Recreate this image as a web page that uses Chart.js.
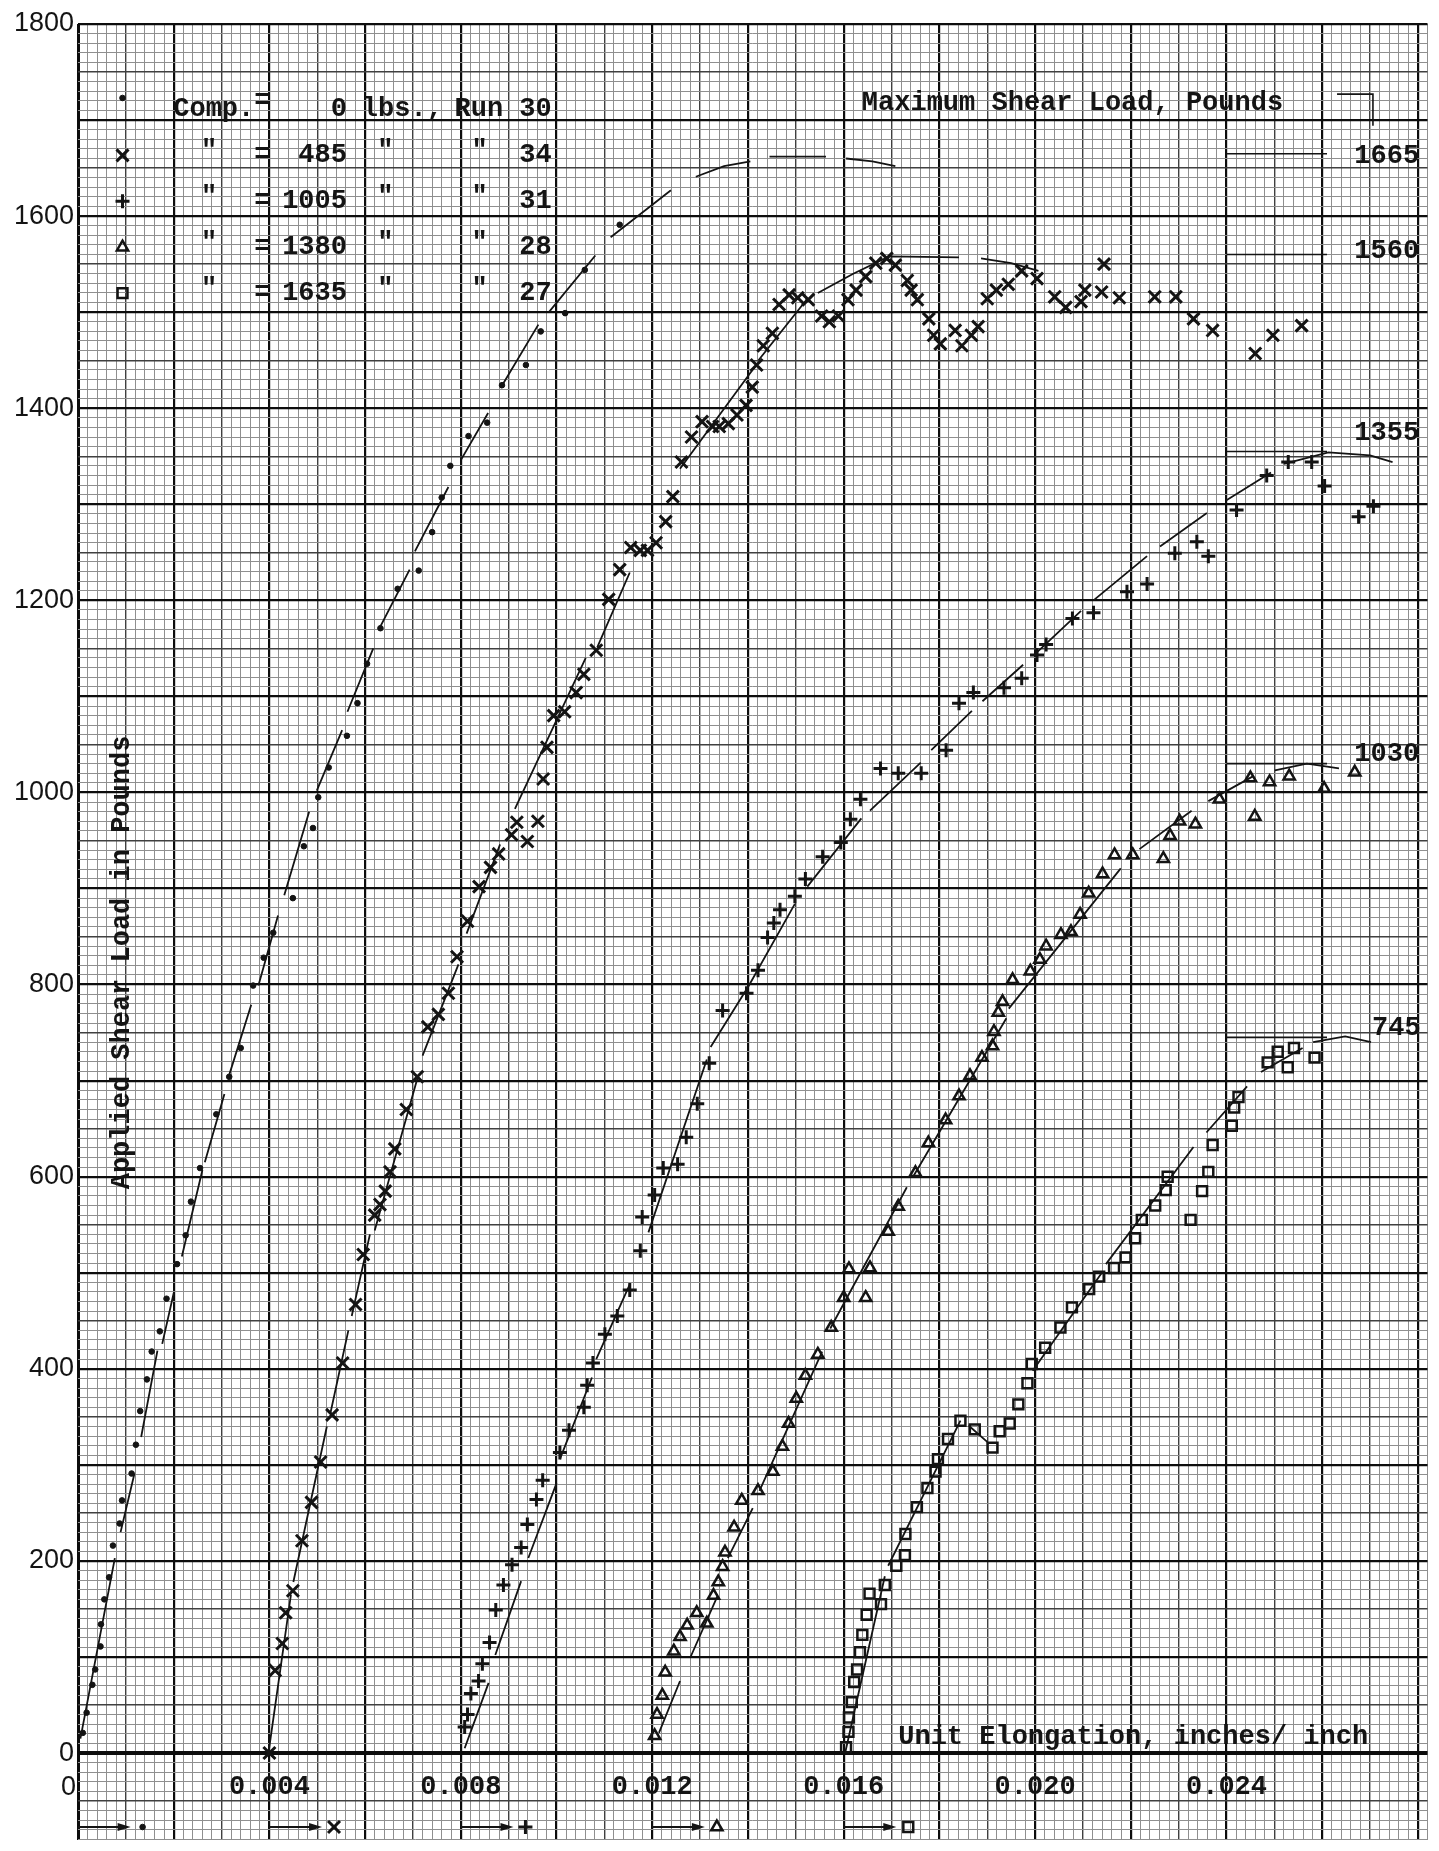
<!DOCTYPE html>
<html>
<head>
<meta charset="utf-8">
<title>Applied Shear Load vs Unit Elongation</title>
<script src="https://cdn.jsdelivr.net/npm/chart.js@4.4.1/dist/chart.umd.min.js"></script>
<style>
  html, body { margin: 0; padding: 0; background: #fff; }
  #wrap { width: 1439px; height: 1851px; }
</style>
</head>
<body>
<div id="wrap"><canvas id="myChart" width="1439" height="1851"></canvas></div>
<script>
// legend / labels
const compLoads = [0, 485, 1005, 1380, 1635];
const runNumbers = [30, 34, 31, 28, 27];
const maxLoads = [1665, 1560, 1355, 1030, 745];
const xTickLabels = ['0.004', '0.008', '0.012', '0.016', '0.020', '0.024'];
const xTickValues = [0.004, 0.008, 0.012, 0.016, 0.020, 0.024];
const seriesStarts = [0, 0.004, 0.008, 0.012, 0.016];

// Comp. = 0 lbs, Run 30  (dots)
const run30Points = [
  [0.0001,21],[0.00018,42],[0.0003,71],[0.00036,87],[0.00047,111],[0.00048,134],[0.00055,160],
  [0.00065,183],[0.00073,216],[0.00087,239],[0.00092,263],[0.00112,291],[0.00121,321],[0.0013,356],
  [0.00144,389],[0.00154,418],[0.00171,439],[0.00185,473],[0.00207,509],[0.00225,539],[0.00236,574],
  [0.00255,609],[0.00289,665],[0.00316,704],[0.0034,734],[0.00366,799],[0.00388,828],[0.00408,854],
  [0.00449,890],[0.00472,944],[0.00491,963],[0.00502,995],[0.00524,1026],[0.00562,1059],[0.00584,1093],
  [0.00604,1134],[0.00632,1171],[0.00668,1212],[0.00712,1231],[0.0074,1271],[0.0076,1307],[0.00778,1340],
  [0.00816,1371],[0.00855,1385],[0.00886,1424],[0.00936,1445],[0.00967,1480],[0.01018,1499],
  [0.01059,1544],[0.01132,1591]
];
const run30Fit = [
  [[0.00005,15],[0.00077,203]], [[0.00089,230],[0.00118,291]], [[0.00132,329],[0.00166,419]],
  [[0.00176,426],[0.002,479]], [[0.00217,517],[0.0026,607]], [[0.00265,615],[0.00306,686]],
  [[0.00316,706],[0.00362,779]], [[0.00377,799],[0.00418,872]], [[0.00431,893],[0.00483,980]],
  [[0.00499,1002],[0.00552,1065]], [[0.00563,1084],[0.00617,1150]], [[0.00629,1170],[0.00693,1232]],
  [[0.00704,1251],[0.00774,1318]], [[0.008,1346],[0.00857,1395]], [[0.00883,1421],[0.00962,1487]],
  [[0.00984,1500],[0.01081,1559]], [[0.01113,1578],[0.01239,1627]],
  [[0.01291,1641],[0.0135,1652],[0.01405,1657]], [[0.01445,1662],[0.01563,1662]],
  [[0.01605,1660],[0.0166,1657],[0.01708,1652]]
];

// Comp. = 485 lbs, Run 34  (x)
const run34Points = [
  [0.004,0],[0.00412,86],[0.00427,114],[0.00434,146],[0.00449,169],[0.00468,221],[0.00488,261],
  [0.00507,303],[0.00531,352],[0.00553,406],[0.0058,467],[0.00596,519],[0.0062,560],[0.00631,571],
  [0.00642,585],[0.00652,605],[0.00662,629],[0.00686,670],[0.00709,704],[0.00731,756],[0.00753,769],
  [0.00774,791],[0.00792,829],[0.00814,866],[0.00838,902],[0.00862,922],[0.00879,936],[0.00906,956],
  [0.00917,969],[0.00939,949],[0.00961,970],[0.00972,1014],[0.0098,1047],[0.00994,1080],[0.01017,1084],
  [0.01041,1104],[0.01057,1123],[0.01083,1148],[0.01109,1201],[0.01132,1232],[0.01155,1255],
  [0.01175,1252],[0.0119,1252],[0.01208,1260],[0.01228,1282],[0.01243,1308],[0.01261,1344],
  [0.01282,1370],[0.01304,1386],[0.01326,1381],[0.0134,1381],[0.01359,1384],[0.01377,1393],
  [0.01396,1403],[0.01409,1422],[0.01418,1445],[0.01432,1465],[0.01451,1478],[0.01465,1508],
  [0.01486,1518],[0.01504,1515],[0.01526,1513],[0.01554,1496],[0.0157,1490],[0.01589,1496],
  [0.01609,1513],[0.01626,1523],[0.01646,1537],[0.01667,1551],[0.0169,1556],[0.01708,1549],
  [0.01733,1533],[0.01741,1523],[0.01754,1513],[0.01778,1493],[0.01788,1476],[0.01802,1467],
  [0.01833,1481],[0.01847,1465],[0.01867,1476],[0.01881,1485],[0.019,1514],[0.01919,1523],
  [0.01944,1529],[0.01972,1543],[0.02004,1535],[0.02041,1516],[0.02064,1505],[0.02096,1511],
  [0.02104,1523],[0.02139,1521],[0.02144,1550],[0.02176,1515],[0.0225,1516],[0.02294,1516],
  [0.02331,1493],[0.02371,1481],[0.0246,1457],[0.02497,1476],[0.02557,1486]
];
const run34Fit = [
  [[0.00398,0],[0.00445,165]], [[0.0045,178],[0.0052,340]], [[0.00528,355],[0.00565,440]],
  [[0.00572,455],[0.0061,540]], [[0.0062,544],[0.00709,702]], [[0.0072,726],[0.00795,821]],
  [[0.00812,853],[0.00882,946]], [[0.00913,983],[0.01061,1140]], [[0.01085,1151],[0.01153,1229]],
  [[0.01258,1337],[0.01414,1443]], [[0.01422,1450],[0.01524,1514]],
  [[0.01546,1520],[0.0162,1540],[0.01695,1558],[0.01841,1557]],
  [[0.01887,1556],[0.0195,1551],[0.02007,1543]]
];

// Comp. = 1005 lbs, Run 31  (+)
const run31Points = [
  [0.00808,27],[0.00814,40],[0.00821,62],[0.00837,75],[0.00845,93],[0.0086,115],[0.00873,149],
  [0.00889,175],[0.00907,196],[0.00926,214],[0.00939,238],[0.00958,264],[0.00971,284],[0.01007,313],
  [0.01026,336],[0.01057,360],[0.01064,383],[0.01076,406],[0.01101,436],[0.01127,455],[0.01153,482],
  [0.01175,523],[0.01179,558],[0.01205,581],[0.01223,609],[0.01253,613],[0.01271,641],[0.01294,676],
  [0.01319,718],[0.01347,773],[0.01397,791],[0.01421,815],[0.01441,849],[0.01454,864],[0.01467,878],
  [0.01498,892],[0.0152,910],[0.01556,933],[0.01594,948],[0.01614,972],[0.01635,993],[0.01677,1025],
  [0.01714,1020],[0.01762,1020],[0.01814,1044],[0.01841,1093],[0.01871,1104],[0.01935,1109],
  [0.01972,1119],[0.02004,1143],[0.02023,1154],[0.02078,1181],[0.02122,1187],[0.02192,1209],
  [0.02234,1217],[0.02292,1249],[0.02338,1261],[0.02362,1246],[0.02421,1294],[0.02484,1330],
  [0.02529,1344],[0.02578,1344],[0.02605,1319],[0.02676,1287],[0.02707,1298]
];
const run31Fit = [
  [[0.00808,5],[0.00858,73]], [[0.00872,102],[0.00926,179]], [[0.00941,203],[0.01,281]],
  [[0.01007,306],[0.01074,391]], [[0.01083,410],[0.01153,488]], [[0.01192,542],[0.01314,722]],
  [[0.01322,735],[0.01402,799],[0.01498,884]], [[0.01524,902],[0.01637,973]],
  [[0.01655,981],[0.01761,1031]], [[0.01783,1044],[0.01868,1085]], [[0.0189,1095],[0.01975,1133]],
  [[0.02002,1145],[0.02096,1189]], [[0.02122,1200],[0.02234,1246]], [[0.02261,1256],[0.02359,1291]],
  [[0.02399,1304],[0.02493,1333]], [[0.0252,1342],[0.02613,1354],[0.027,1351],[0.02747,1344]]
];

// Comp. = 1380 lbs, Run 28  (triangle)
const run28Points = [
  [0.01205,18],[0.0121,40],[0.01221,60],[0.01227,84],[0.01245,106],[0.01258,121],[0.01273,133],
  [0.01293,146],[0.01314,135],[0.01328,164],[0.01338,178],[0.01347,194],[0.01352,209],[0.01371,235],
  [0.01387,263],[0.01421,273],[0.01452,293],[0.01472,319],[0.01485,343],[0.01501,369],[0.0152,393],
  [0.01546,415],[0.01574,443],[0.016,474],[0.01611,504],[0.01646,474],[0.01655,505],[0.01693,543],
  [0.01714,569],[0.0175,604],[0.01777,635],[0.01813,659],[0.01841,684],[0.01864,705],[0.01889,724],
  [0.01911,736],[0.01914,751],[0.01923,771],[0.01932,782],[0.01953,805],[0.0199,814],[0.0201,826],
  [0.02023,840],[0.02054,852],[0.02075,855],[0.02094,873],[0.02112,895],[0.02141,915],[0.02166,935],
  [0.02204,935],[0.02268,931],[0.02282,955],[0.02302,970],[0.02335,967],[0.02385,993],[0.0245,1015],
  [0.02459,975],[0.0249,1011],[0.02531,1017],[0.02604,1004],[0.02668,1021]
];
const run28Fit = [
  [[0.01214,21],[0.01258,75]], [[0.0128,100],[0.01336,163]], [[0.01358,203],[0.0141,255]],
  [[0.01424,273],[0.01555,418]], [[0.01572,442],[0.01732,589]], [[0.01745,600],[0.0194,765]],
  [[0.01945,775],[0.02179,921]], [[0.02218,941],[0.02327,981]], [[0.02362,991],[0.02456,1017]],
  [[0.02501,1023],[0.02568,1030],[0.02635,1025]]
];

// Comp. = 1635 lbs, Run 27  (square)
const run27Points = [
  [0.01605,6],[0.0161,22],[0.01611,37],[0.01617,53],[0.01622,74],[0.01628,87],[0.01634,105],
  [0.01639,123],[0.01648,144],[0.01654,166],[0.01678,155],[0.01686,175],[0.0171,195],[0.01728,206],
  [0.01729,228],[0.01753,256],[0.01775,276],[0.01792,293],[0.01797,306],[0.01818,327],[0.01844,346],
  [0.01874,337],[0.01911,318],[0.01926,335],[0.01947,343],[0.01965,363],[0.01984,385],[0.01993,405],
  [0.02021,422],[0.02053,443],[0.02077,464],[0.02113,483],[0.02134,496],[0.02165,505],[0.02189,516],
  [0.02209,536],[0.02223,555],[0.02251,570],[0.02273,586],[0.02277,600],[0.02325,555],[0.02349,585],
  [0.02362,605],[0.02371,633],[0.02411,653],[0.02416,672],[0.02425,683],[0.02486,719],[0.02507,730],
  [0.02528,714],[0.02541,734],[0.02584,724]
];
const run27Fit = [
  [[0.01603,0],[0.01686,184]], [[0.01693,195],[0.01844,346]], [[0.01861,341],[0.019,324]],
  [[0.01995,398],[0.02141,501]], [[0.02148,509],[0.02331,631]], [[0.02358,646],[0.02443,694]],
  [[0.02472,709],[0.02559,734]], [[0.02581,740],[0.02648,746],[0.02702,740]]
];

const INK = '#141414';
const TYPE = 'bold 27px "Liberation Mono", "Courier New", monospace';
const SANS = '27px "Liberation Sans", Arial, sans-serif';

const markerStyles = [
  { pointStyle: 'circle', radius: 2.8, fill: INK, lw: 1 },
  { pointStyle: 'crossRot', radius: 8.5, fill: INK, lw: 3 },
  { pointStyle: 'cross', radius: 7, fill: INK, lw: 3 },
  { pointStyle: 'triangle', radius: 6.5, fill: 'rgba(0,0,0,0)', lw: 2.5 },
  { pointStyle: 'rect', radius: 7, fill: 'rgba(0,0,0,0)', lw: 2.5 }
];

const toXY = arr => arr.map(p => ({ x: p[0], y: p[1] }));
const toPath = segs => segs.flatMap(seg => [...toXY(seg), { x: seg[seg.length - 1][0], y: null }]);

const pointSets = [run30Points, run34Points, run31Points, run28Points, run27Points];
const fitSets = [run30Fit, run34Fit, run31Fit, run28Fit, run27Fit];
const maxLineSegs = maxLoads.map(v => [[0.024, v], [0.0261, v]]);

const datasets = [];
fitSets.forEach((f, i) => {
  datasets.push({
    label: 'fit ' + runNumbers[i], data: toPath(f), showLine: true, spanGaps: false,
    borderColor: INK, borderWidth: 1.8, pointRadius: 0, tension: 0, fill: false
  });
});
datasets.push({
  label: 'maximum', data: toPath(maxLineSegs), showLine: true, spanGaps: false,
  borderColor: INK, borderWidth: 1.6, pointRadius: 0, fill: false
});
pointSets.forEach((p, i) => {
  const m = markerStyles[i];
  datasets.push({
    label: 'Run ' + runNumbers[i], data: toXY(p), showLine: false,
    pointStyle: m.pointStyle, pointRadius: m.radius, pointBorderWidth: m.lw,
    pointBorderColor: INK, pointBackgroundColor: m.fill
  });
});

function gridStyle(step, zeroWidth) {
  const idx = c => (c.tick ? Math.round(c.tick.value / step) : 1);
  return {
    drawTicks: false,
    color: c => {
      const n = idx(c);
      if (n % 10 === 0) return '#0d0d0d';
      if (n % 5 === 0) return '#404040';
      return '#8f8f8f';
    },
    lineWidth: c => {
      const n = idx(c);
      if (n === 0) return zeroWidth;
      if (n % 10 === 0) return 2.2;
      if (n % 5 === 0) return 1.4;
      return 1;
    }
  };
}

function drawMarker(ctx, i, xp, yp) {
  const m = markerStyles[i];
  ctx.save();
  ctx.fillStyle = m.fill;
  ctx.strokeStyle = INK;
  ctx.lineWidth = m.lw;
  Chart.helpers.drawPoint(ctx, { pointStyle: m.pointStyle, radius: m.radius, rotation: 0, borderWidth: m.lw }, xp, yp);
  ctx.restore();
}

const paperText = {
  id: 'paperText',
  afterDatasetsDraw(chart) {
    const { ctx, scales: { x, y } } = chart;
    const px = v => x.getPixelForValue(v);
    const py = v => y.getPixelForValue(v);
    ctx.save();
    ctx.fillStyle = INK;
    ctx.strokeStyle = INK;
    ctx.font = TYPE;
    ctx.textBaseline = 'middle';

    // legend block
    compLoads.forEach((load, i) => {
      const ry = py(1711 - i * 47.8);
      drawMarker(ctx, i, px(0.00093), i === 0 ? py(1723) : ry);
      ctx.font = TYPE;
      ctx.fillStyle = INK;
      if (i === 0) {
        ctx.textAlign = 'left';
        ctx.fillText('Comp.', px(0.00199), ry);
        ctx.textAlign = 'center';
        ctx.fillText('=', px(0.00385), ry - 8);
        ctx.textAlign = 'right';
        ctx.fillText(String(load), px(0.00562), ry);
        ctx.textAlign = 'left';
        ctx.fillText('lbs.,', px(0.00593), ry);
        ctx.fillText('Run', px(0.00787), ry);
      } else {
        ctx.textAlign = 'center';
        ctx.fillText('"', px(0.00274), ry - 4);
        ctx.fillText('=', px(0.00385), ry);
        ctx.fillText('"', px(0.00642), ry - 4);
        ctx.fillText('"', px(0.00839), ry - 4);
        ctx.textAlign = 'right';
        ctx.fillText(String(load), px(0.00562), ry);
      }
      ctx.textAlign = 'left';
      ctx.fillText(String(runNumbers[i]), px(0.00922), ry);
    });

    // maximum shear load block
    ctx.textAlign = 'left';
    ctx.fillText('Maximum Shear Load, Pounds', px(0.01638), py(1718));
    ctx.lineWidth = 1.6;
    ctx.beginPath();
    ctx.moveTo(px(0.02631), py(1727));
    ctx.lineTo(px(0.02706), py(1727));
    ctx.lineTo(px(0.02706), py(1694));
    ctx.stroke();
    const labelShift = [3, -3, -18, -9, -9];
    maxLoads.forEach((v, i) => {
      const lx = i === 4 ? px(0.02704) : px(0.02667);
      ctx.fillText(String(v), lx, py(v) + labelShift[i]);
    });

    // axis titles
    ctx.fillText('Unit Elongation, inches/ inch', px(0.01714), py(17));
    ctx.save();
    ctx.translate(px(0.00092), py(823));
    ctx.rotate(-Math.PI / 2);
    ctx.textAlign = 'center';
    ctx.fillText('Applied Shear Load in Pounds', 0, 0);
    ctx.restore();

    // x tick labels typed under the zero line
    ctx.textAlign = 'center';
    xTickValues.forEach((v, i) => ctx.fillText(xTickLabels[i], px(v), py(-36)));
    ctx.font = SANS;
    ctx.textAlign = 'right';
    ctx.fillText('0', px(0) - 2, py(-36));

    // origin-shift arrows for each run
    const ay = py(-77);
    seriesStarts.forEach((s, i) => {
      const x0 = px(s), x1 = px(s + 0.0011);
      ctx.lineWidth = 1.8;
      ctx.beginPath();
      ctx.moveTo(x0, ay);
      ctx.lineTo(x1 - 8, ay);
      ctx.stroke();
      ctx.beginPath();
      ctx.moveTo(x1, ay);
      ctx.lineTo(x1 - 13, ay - 4);
      ctx.lineTo(x1 - 13, ay + 4);
      ctx.closePath();
      ctx.fill();
      drawMarker(ctx, i, px(s + 0.00135), ay);
    });
    ctx.restore();
  }
};

const ctx = document.getElementById('myChart');
new Chart(ctx, {
  type: 'line',
  data: { datasets },
  options: {
    responsive: false,
    devicePixelRatio: 1,
    animation: false,
    layout: { padding: { top: 24, left: 0, right: 0, bottom: 0 } },
    plugins: { legend: { display: false }, tooltip: { enabled: false } },
    scales: {
      x: {
        type: 'linear', min: 0, max: 0.0282,
        border: { display: false },
        grid: gridStyle(0.0002, 3),
        ticks: { stepSize: 0.0002, display: false, autoSkip: false },
        afterFit: s => { s.height = 0; s.paddingLeft = 0; s.paddingRight = 0; }
      },
      y: {
        type: 'linear', min: -90, max: 1800,
        border: { display: false },
        grid: gridStyle(10, 4),
        ticks: {
          stepSize: 10, autoSkip: false, padding: 4, color: INK,
          font: { family: '"Liberation Sans", Arial, sans-serif', size: 27 },
          callback: v => (v >= 0 && Math.round(v) % 200 === 0 ? String(Math.round(v)) : '')
        },
        afterFit: s => { s.width = 78; s.paddingTop = 0; s.paddingBottom = 0; }
      }
    }
  },
  plugins: [paperText]
});
</script>
</body>
</html>
